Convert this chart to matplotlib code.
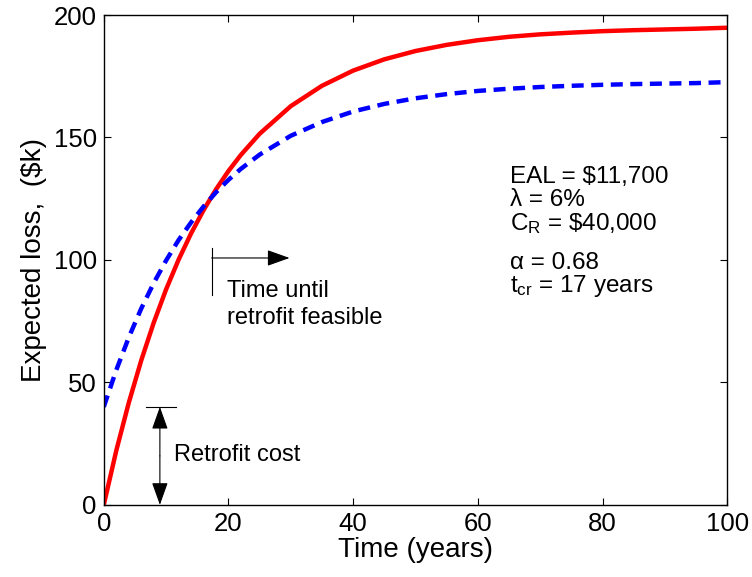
import matplotlib
matplotlib.use("Agg")
import matplotlib.pyplot as plt

plt.rcParams["font.family"] = ["Liberation Sans", "DejaVu Sans"]
plt.rcParams["mathtext.fontset"] = "custom"
plt.rcParams["mathtext.rm"] = "Liberation Sans"
plt.rcParams["mathtext.it"] = "Liberation Sans"

# time axis (years) and expected losses in $k
years = [0, 2, 4, 6, 8, 10, 12, 14, 16, 18, 20, 22, 25, 30, 35, 40, 45,
         50, 55, 60, 65, 70, 75, 80, 85, 90, 95, 100]
loss_no_retrofit = [0, 22.1, 41.6, 58.9, 74.3, 88.0, 100.1, 110.8, 120.3,
                    128.8, 136.3, 142.9, 151.5, 162.8, 171.1, 177.3, 181.9,
                    185.3, 187.8, 189.7, 191.1, 192.1, 192.8, 193.4, 193.8,
                    194.1, 194.4, 194.8]
loss_retrofit = [40.0, 55.0, 68.3, 80.1, 90.5, 99.8, 108.1, 115.3, 121.8,
                 127.6, 132.7, 137.2, 143.0, 150.7, 156.3, 160.6, 163.7,
                 166.0, 167.7, 169.0, 169.9, 170.6, 171.1, 171.5, 171.8,
                 172.0, 172.2, 172.6]

retrofit_cost = 40
t_cr = 17

fig = plt.figure(figsize=(7.52, 5.77), dpi=100)
ax = fig.add_axes([0.138, 0.125, 0.829, 0.849])

ax.plot(years, loss_no_retrofit, color="#ff0000", lw=3.2, solid_capstyle="butt")
ax.plot(years, loss_retrofit, color="#0000ff", lw=3.2, ls=(0, (2.7, 1.7)))

ax.set_xlim(0, 100)
ax.set_ylim(0, 200)
ax.set_xticks([0, 20, 40, 60, 80, 100])
ax.set_yticks([0, 50, 100, 150, 200])
ax.tick_params(direction="in", top=True, right=True, length=5, width=0.8,
               labelsize=18.5, pad=5)
for sp in ax.spines.values():
    sp.set_linewidth(1.0)
ax.set_xlabel("Time (years)", fontsize=20, labelpad=1)
ax.set_ylabel("Expected loss,  ($k)", fontsize=20, labelpad=5)

arrow = dict(arrowstyle="-|>,head_length=0.7,head_width=0.25", color="black",
             lw=0.8, mutation_scale=20, shrinkA=0, shrinkB=0)

# retrofit cost bracket
ax.plot([6.7, 11.6], [retrofit_cost, retrofit_cost], color="black", lw=0.8)
ax.annotate("", xy=(9, retrofit_cost), xytext=(9, 20), arrowprops=arrow)
ax.annotate("", xy=(9, 0), xytext=(9, 20), arrowprops=arrow)
ax.text(11.2, 20.5, "Retrofit cost", fontsize=17, va="center", ha="left")

# time until retrofit is feasible
ax.plot([t_cr + 0.3, t_cr + 0.3], [85.5, 105], color="black", lw=0.8)
ax.annotate("", xy=(29.8, 100.8), xytext=(t_cr + 0.3, 100.8),
            arrowprops=arrow)
ax.text(19.8, 81.8, "Time until\nretrofit feasible", fontsize=17,
        va="center", ha="left", linespacing=1.3)

# parameter block
params = [
    (134.0, r"EAL = \$11,700"),
    (124.5, r"λ = 6%"),
    (114.8, r"C$_{\mathrm{R}}$ = \$40,000"),
    (98.6, r"α = 0.68"),
    (89.2, r"t$_{\mathrm{cr}}$ = 17 years"),
]
for y, s in params:
    ax.text(65.2, y, s, fontsize=17.5, va="center", ha="left")

fig.savefig("out.png", dpi=100)
